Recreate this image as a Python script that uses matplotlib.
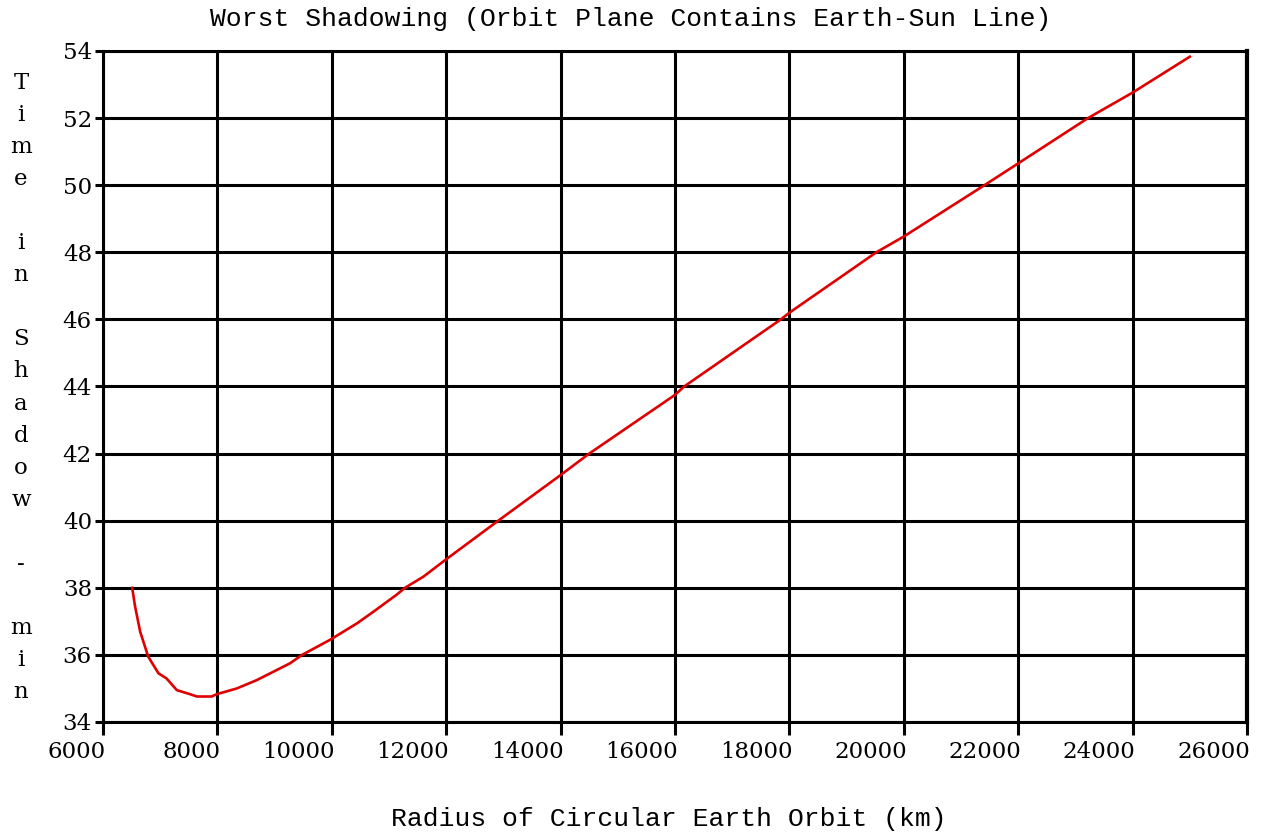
import matplotlib
matplotlib.use("Agg")
import matplotlib.pyplot as plt
from matplotlib.transforms import ScaledTranslation

# Data
radius_km = [6510, 6560, 6650, 6790, 6970, 7110, 7290, 7520, 7640, 7900, 7990,
             8340, 8690, 9270, 9480, 9970, 10440, 10730, 11130, 11280, 11600,
             12000, 12910, 14000, 14500, 16000, 16160, 17850, 18000, 19520,
             20000, 21410, 22000, 23220, 24000, 25000]
shadow_min = [38.0, 37.45, 36.69, 35.95, 35.45, 35.30, 34.95, 34.83, 34.76, 34.76,
              34.83, 35.0, 35.25, 35.75, 36.0, 36.45, 36.94, 37.29, 37.79, 38.0,
              38.33, 38.85, 40.0, 41.36, 42.0, 43.75, 44.0, 46.0, 46.2, 48.0,
              48.47, 50.0, 50.65, 52.0, 52.76, 53.83]

x_ticks = list(range(6000, 26001, 2000))
y_ticks = list(range(34, 55, 2))

title = "Worst Shadowing (Orbit Plane Contains Earth-Sun Line)"
xlabel = "Radius of Circular Earth Orbit (km)"
ylabel = "Time in Shadow - min"

W, H = 1265, 832
fig = plt.figure(figsize=(W / 100, H / 100), dpi=100)
ax = fig.add_axes([103 / W, 1 - 722 / H, (1247 - 103) / W, (722 - 51) / H])

ax.plot(radius_km, shadow_min, color="#e00000", lw=1.9, zorder=3)

ax.set_xlim(6000, 26000)
ax.set_ylim(34, 54)
ax.set_xticks(x_ticks)
ax.set_yticks(y_ticks)
ax.grid(True, color="black", lw=2.2, zorder=1)
ax.set_axisbelow(True)
for s in ax.spines.values():
    s.set_color("black")
    s.set_linewidth(2.2)
ax.spines["right"].set_linewidth(3.0)

ax.tick_params(axis="x", direction="out", length=9.5, width=2.2, pad=4,
               labelsize=16.5)
ax.tick_params(axis="y", direction="out", length=6, width=2.2, pad=2,
               labelsize=16.5)
shift = ScaledTranslation(3 / 100, 0, fig.dpi_scale_trans)
for lab in ax.get_xticklabels():
    lab.set_family("DejaVu Serif")
    lab.set_ha("right")
    lab.set_transform(lab.get_transform() + shift)
for lab in ax.get_yticklabels():
    lab.set_family("DejaVu Serif")

fig.text(631 / W, 1 - 19 / H, title, ha="center", va="center",
         family="Liberation Mono", fontsize=19)
fig.text(669 / W, 1 - 819 / H, xlabel, ha="center", va="center",
         family="Liberation Mono", fontsize=19)

for i, ch in enumerate(ylabel):
    if ch == " ":
        continue
    fig.text(21 / W, 1 - (83 + i * 32.05) / H, ch, ha="center", va="center",
             family="DejaVu Serif", fontsize=16.5)

fig.savefig("out.png", dpi=100, facecolor="white")
